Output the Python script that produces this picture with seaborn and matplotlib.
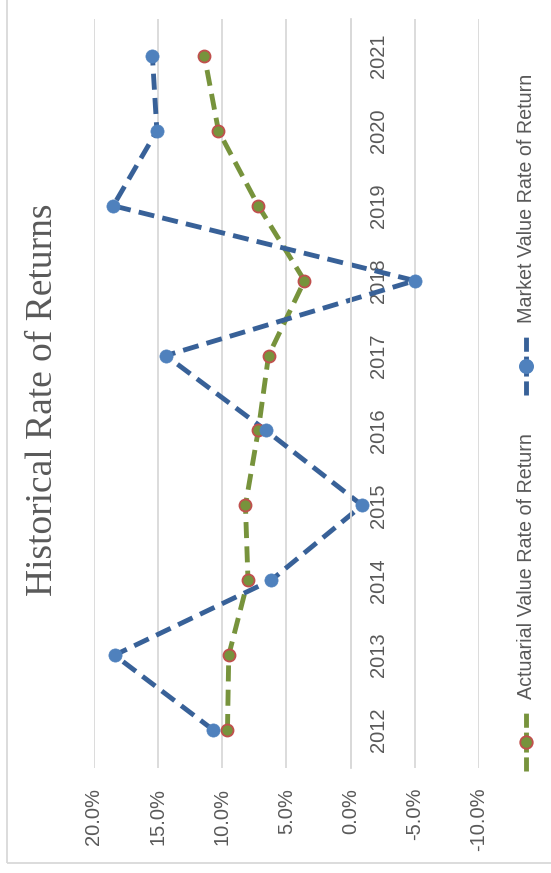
import matplotlib
matplotlib.use("Agg")
import matplotlib.pyplot as plt
from matplotlib.patches import Rectangle
from matplotlib.lines import Line2D
import seaborn as sns
import pandas as pd

# Data (annual rates of return, percent)
years = [2012, 2013, 2014, 2015, 2016, 2017, 2018, 2019, 2020, 2021]
actuarial = [9.6, 9.5, 8.0, 8.2, 7.2, 6.4, 3.6, 7.2, 10.3, 11.4]
market = [10.7, 18.4, 6.2, -0.9, 6.6, 14.4, -5.0, 18.5, 15.1, 15.45]
value_ticks = [20, 15, 10, 5, 0, -5, -10]
title = "Historical Rate of Returns"
series_names = ["Actuarial Value Rate of Return", "Market Value Rate of Return"]

sns.set_theme(style="white")
label_font = ["Liberation Sans Narrow", "Liberation Sans", "DejaVu Sans"]
plt.rcParams["font.family"] = label_font

TEXT = "#595959"
GRID = "#D9D9D9"
GREEN = "#77933C"
RED_EDGE = "#C0504D"
BLUE_LINE = "#386198"
BLUE_MARK = "#4F81BD"

df = pd.DataFrame({"year": years, "actuarial": actuarial, "market": market})

W, H = 551, 873
fig = plt.figure(figsize=(W / 100, H / 100), dpi=100)
ax = fig.add_axes([94 / W, 1 - 767.5 / H, (479 - 94) / W, (767.5 - 18.5) / H])

dash = (0, (3.3, 1.7))
sns.lineplot(data=df, x="actuarial", y="year", sort=False, estimator=None,
             color=GREEN, lw=3.5, linestyle=dash, ax=ax, zorder=2)
sns.lineplot(data=df, x="market", y="year", sort=False, estimator=None,
             color=BLUE_LINE, lw=3.5, linestyle=dash, ax=ax, zorder=2)
sns.scatterplot(data=df, x="actuarial", y="year", s=75, color=GREEN,
                edgecolor=RED_EDGE, linewidth=1.3, ax=ax, zorder=3)
sns.scatterplot(data=df, x="market", y="year", s=90, color=BLUE_MARK,
                edgecolor=BLUE_MARK, linewidth=0.5, ax=ax, zorder=4)

ax.set_xlim(value_ticks[0], value_ticks[-1])
ax.set_ylim(years[0] - 0.5, years[-1] + 0.5)
ax.set_xlabel("")
ax.set_ylabel("")

ax.set_xticks(value_ticks)
ax.set_xticklabels([f"{v:.1f}%" for v in value_ticks])
ax.xaxis.grid(True, color=GRID, lw=1.3)
ax.yaxis.grid(False)
ax.tick_params(axis="x", length=0, pad=14.5, labelrotation=90,
               labelsize=14.5, labelcolor=TEXT)

# Category labels sit beside the zero line
ax.yaxis.tick_right()
ax.set_yticks(years)
ax.set_yticklabels([str(y) for y in years])
ax.spines["right"].set_position(("data", 0))
ax.spines["right"].set_color(GRID)
ax.spines["right"].set_linewidth(1.3)
for side in ["left", "top", "bottom"]:
    ax.spines[side].set_visible(False)
ax.tick_params(axis="y", length=0, pad=13, labelsize=14.5, labelcolor=TEXT)
for lab in ax.get_yticklabels():
    lab.set_rotation(90)
    lab.set_va("center")
    lab.set_ha("left")

# Chart frame
fig.add_artist(Rectangle((7 / W, 1 - 863 / H), 1.2, 1.2, transform=fig.transFigure,
                         fill=False, edgecolor=GRID, lw=1.3, zorder=0))

# Title
fig.text(43 / W, 1 - 400 / H, title, rotation=90, ha="center", va="center",
         fontsize=27, color=TEXT, family=["Liberation Serif", "DejaVu Serif"])

# Legend (rotated with the chart)
def legend_entry(x_px, key_y_px, line_color, face, edge, size):
    fig.add_artist(Line2D([x_px / W, x_px / W],
                          [1 - (key_y_px + 29) / H, 1 - (key_y_px - 29) / H],
                          transform=fig.transFigure, color=line_color, lw=3.5,
                          linestyle=(0, (2.9, 1.0, 4.1, 1.0, 2.9, 3.0))))
    fig.add_artist(Line2D([x_px / W], [1 - key_y_px / H], transform=fig.transFigure,
                          marker="o", markersize=size, markerfacecolor=face,
                          markeredgecolor=edge, markeredgewidth=1.3, lw=0))

legend_entry(526, 742, GREEN, GREEN, RED_EDGE, 9)
fig.text(526 / W, 1 - 699 / H, series_names[0], rotation=90, ha="center",
         va="bottom", fontsize=14.2, color=TEXT)
legend_entry(526, 366, BLUE_LINE, BLUE_MARK, BLUE_MARK, 9.5)
fig.text(526 / W, 1 - 323 / H, series_names[1], rotation=90, ha="center",
         va="bottom", fontsize=14.2, color=TEXT)

fig.savefig("out.png", dpi=100, facecolor="white")
